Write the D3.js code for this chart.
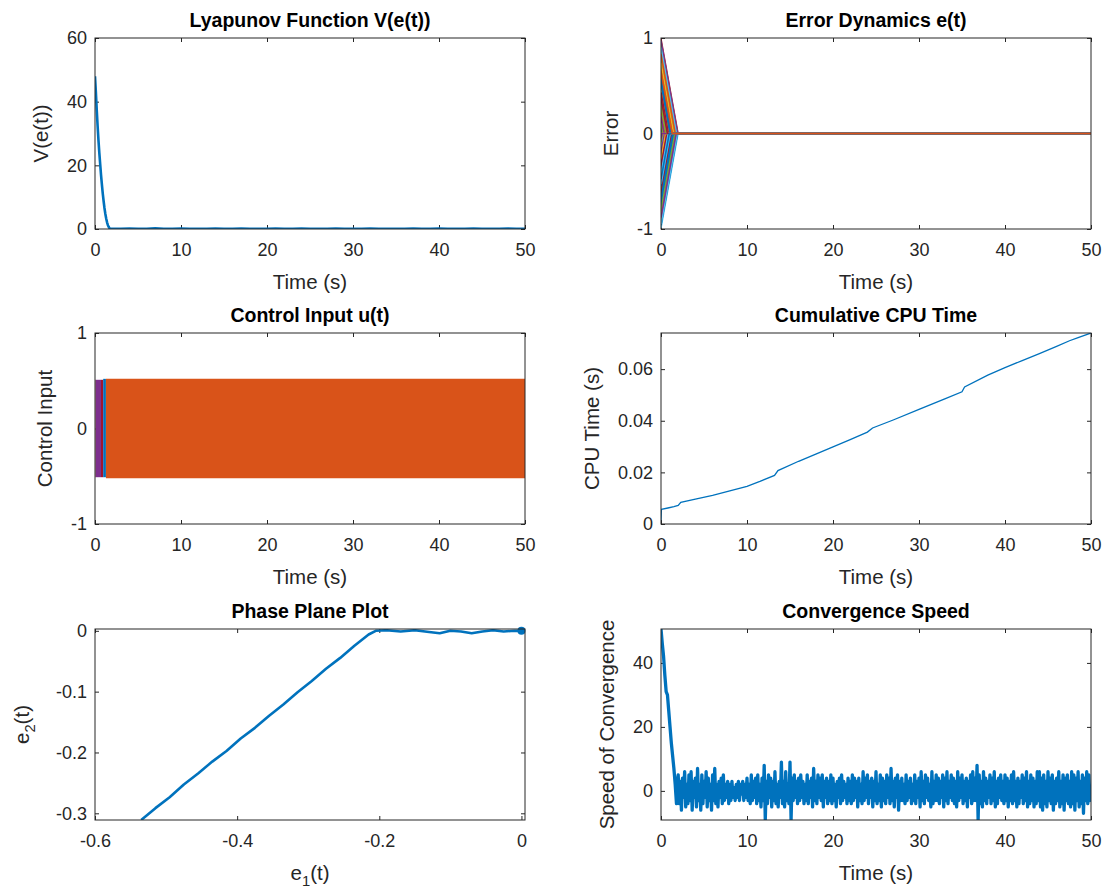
<!DOCTYPE html>
<html>
<head>
<meta charset="utf-8">
<script src="https://cdn.jsdelivr.net/npm/d3@7/dist/d3.min.js"></script>
<style>
  body { margin: 0; background: #fff; }
  svg { display: block; font-family: "Liberation Sans", Arial, Helvetica, sans-serif; }
</style>
</head>
<body>
<svg id="fig"></svg>
<script>
// MATLAB default line colour order
const colorOrder = ['#0072BD', '#D95319', '#EDB120', '#7E2F8E', '#77AC30', '#4DBEEE', '#A2142F']

// shared time ticks
const timeTicks = [0, 10, 20, 30, 40, 50]
const timeTickLabels = ['0', '10', '20', '30', '40', '50']

// Lyapunov function V(e(t))
const lyTime = [0, 0.1, 0.2, 0.3, 0.4, 0.5, 0.6, 0.7, 0.8, 0.9, 1.0, 1.1, 1.2, 1.3, 1.4, 1.5, 1.6, 1.7, 1.8]
const lyValue = [48, 43, 37.5, 32.5, 28, 24, 20.5, 17, 14, 11.2, 8.8, 6.6, 4.8, 3.3, 2.1, 1.2, 0.6, 0.2, 0.05]
const lyTailStart = 2
const lyTailStep = 1
const lyTail = [0.1, 0.05, 0.15, 0.05, 0.1, 0.2, 0.05, 0.1, 0.15, 0.05, 0.1, 0.05, 0.15, 0.1, 0.05, 0.15, 0.1, 0.05, 0.1, 0.15,
  0.05, 0.1, 0.15, 0.05, 0.1, 0.05, 0.15, 0.1, 0.05, 0.1, 0.15, 0.05, 0.1, 0.1, 0.05, 0.15, 0.05, 0.1, 0.15, 0.05,
  0.1, 0.05, 0.15, 0.1, 0.05, 0.1, 0.15, 0.05, 0.1]
const lyYTicks = [0, 20, 40, 60]

// Error dynamics e(t): initial error and settling time of each of the 100 states
const errInit = [0.62, -0.35, 0.81, 0.12, -0.74, -0.99, 0.45, -0.18, 0.93, -0.52,
  0.27, 0.71, -0.86, 0.99, -0.07, 0.38, -0.61, 0.55, -0.29, 0.84,
  -0.93, 0.16, -0.44, 0.68, 0.05, -0.77, 0.92, -0.13, 0.33, -0.58,
  0.76, -0.22, 0.49, -0.83, 0.09, -0.96, 0.60, -0.40, 0.87, -0.66,
  0.21, -0.04, 0.73, -0.89, 0.42, -0.31, 0.96, -0.50, 0.14, -0.79,
  0.58, -0.11, 0.35, -0.70, 0.88, -0.25, 0.02, -0.91, 0.47, -0.37,
  0.79, -0.16, 0.64, -0.55, 0.24, -0.84, 0.97, -0.09, 0.31, -0.63,
  0.52, -0.46, 0.85, -0.20, 0.11, -0.95, 0.39, -0.72, 0.67, -0.27,
  0.18, -0.81, 0.90, -0.34, 0.57, -0.06, 0.74, -0.88, 0.29, -0.53,
  0.43, -0.68, 0.83, 0.01, -0.05, 0.36, -0.42, 0.37, -0.48, 0.65]
const errSettle = [1.24, 0.70, 1.62, 0.24, 1.48, 1.98, 0.90, 0.36, 1.86, 1.04,
  0.54, 1.42, 1.72, 1.98, 0.14, 0.76, 1.22, 1.10, 0.58, 1.68,
  1.86, 0.32, 0.88, 1.36, 0.10, 1.54, 1.84, 0.26, 0.66, 1.16,
  1.52, 0.44, 0.98, 1.66, 0.18, 1.92, 1.20, 0.80, 1.74, 1.32,
  0.42, 0.08, 1.46, 1.78, 0.84, 0.62, 1.92, 1.00, 0.28, 1.58,
  1.16, 0.22, 0.70, 1.40, 1.76, 0.50, 0.04, 1.82, 0.94, 0.74,
  1.58, 0.32, 1.28, 1.10, 0.48, 1.68, 1.94, 0.18, 0.62, 1.26,
  1.04, 0.92, 1.70, 0.40, 0.22, 1.90, 0.78, 1.44, 1.34, 0.54,
  0.36, 1.62, 1.80, 0.68, 1.14, 0.12, 1.48, 1.76, 0.58, 1.06,
  0.86, 1.36, 1.66, 0.02, 0.10, 0.72, 0.84, 0.74, 0.96, 1.30]
const errYTicks = [-1, 0, 1]

// Control input u(t): chattering band of the states that end up on top
const uBandSeries = [94, 95, 98, 99, 100]
const uBandStart = [0, 0.05, 0.7, 0.95, 1.27]
const uBandEnd = [0.05, 0.7, 0.95, 1.27, 50]
const uBandHigh = [0.51, 0.51, 0.51, 0.52, 0.52]
const uBandLow = [-0.51, -0.51, -0.51, -0.51, -0.52]
const uYTicks = [-1, 0, 1]

// Cumulative CPU time
const cpuTime = [0, 0.05, 0.8, 1.5, 2.0, 2.3, 4, 6, 8, 10, 11.5, 13.2, 13.6, 16, 18, 20, 22, 24, 24.6, 27, 30,
  33, 35, 35.3, 38, 40, 42, 44, 46, 47.5, 48.5, 50]
const cpuValue = [0.0015, 0.0057, 0.0062, 0.0067, 0.0072, 0.0084, 0.0096, 0.0111, 0.0128, 0.0146, 0.0165, 0.0188,
  0.0207, 0.0243, 0.0271, 0.0299, 0.0327, 0.0356, 0.0372, 0.0403, 0.0444, 0.0485, 0.0512, 0.0531, 0.0577,
  0.0606, 0.0633, 0.0660, 0.0688, 0.0710, 0.0722, 0.0740]
const cpuYTicks = [0, 0.02, 0.04, 0.06]
const cpuYTickLabels = ['0', '0.02', '0.04', '0.06']

// Phase plane e1 vs e2
const phE1 = [-0.535, -0.515, -0.495, -0.475, -0.455, -0.435, -0.415, -0.395, -0.375, -0.355, -0.335, -0.315,
  -0.295, -0.275, -0.255, -0.235, -0.215, -0.205, -0.19, -0.17, -0.15, -0.13, -0.115, -0.1, -0.085, -0.07,
  -0.055, -0.04, -0.025, -0.01, 0]
const phE2 = [-0.311, -0.2915, -0.2735, -0.2525, -0.2345, -0.2150, -0.1975, -0.1770, -0.1595, -0.1395, -0.1210, -0.1010,
  -0.0825, -0.0625, -0.0445, -0.0245, -0.0060, 0.0, 0.001, -0.001, 0.001, -0.002, -0.004, 0.0, -0.001, -0.004,
  -0.001, 0.001, -0.001, 0.0, 0.0]
const phXTicks = [-0.6, -0.4, -0.2, 0]
const phXTickLabels = ['-0.6', '-0.4', '-0.2', '0']
const phYTicks = [-0.3, -0.2, -0.1, 0]
const phYTickLabels = ['-0.3', '-0.2', '-0.1', '0']

// Convergence speed
const convHeadTime = [0, 0.15, 0.3, 0.45, 0.6, 0.75, 0.9, 1.05, 1.2, 1.35, 1.5, 1.65, 1.8, 1.9]
const convHeadValue = [50.6, 46, 42, 36, 31, 30, 25, 20, 15, 11, 7, 2, -4, 3]
const convTailStart = 2
const convTailStep = 0.125
const convTail = [
  5, -4, 3, -6, 4, -2, 6, -5, 2, -4, 5, -3, 6, -6, 3, -2,
  4, -5, 7, -3, 2, -6, 5, -4, 3, -2, 6, -5, 4, -3, 2, -6,
  5, -3, 7, -4, 2, -5, 3, -2, 4, -4, 5, -3, 2, -2, 3, -4,
  2, -3, 3, -2, 1, -3, 2, -2, 3, -3, 2, -1, 3, -3, 2, -2,
  4, -3, 2, -4, 5, -3, 3, -2, 4, -4, 5, -3, 2, -5, 4, -3,
  8, -9, 3, -4, 5, -2, 4, -5, 3, -3, 6, -4, 2, -5, 3, -2,
  9, -4, 3, -5, 6, -3, 2, -4, 9, -9, 4, -3, 5, -2, 3, -4,
  4, -3, 5, -2, 3, -4, 2, -3, 5, -4, 3, -2, 4, -5, 7, -3,
  3, -4, 5, -2, 4, -3, 5, -5, 3, -2, 4, -4, 3, -3, 5, -4,
  4, -3, 2, -5, 3, -2, 4, -4, 5, -3, 3, -2, 2, -4, 4, -3,
  3, -4, 5, -3, 4, -2, 3, -5, 4, -3, 2, -4, 6, -3, 4, -2,
  5, -4, 3, -2, 4, -5, 3, -3, 6, -4, 2, -3, 5, -5, 4, -3,
  3, -4, 5, -2, 4, -4, 7, -3, 3, -5, 4, -2, 5, -6, 3, -3,
  4, -3, 2, -4, 5, -3, 3, -2, 4, -4, 2, -3, 5, -4, 3, -2,
  4, -5, 6, -3, 3, -4, 5, -2, 4, -3, 2, -5, 6, -4, 3, -3,
  5, -3, 4, -4, 3, -2, 5, -5, 4, -3, 6, -4, 3, -2, 5, -3,
  4, -4, 3, -5, 6, -3, 4, -2, 5, -4, 3, -3, 4, -5, 3, -2,
  5, -4, 6, -3, 4, -3, 8, -9, 5, -4, 3, -5, 6, -3, 4, -4,
  3, -2, 5, -4, 4, -3, 6, -5, 3, -4, 4, -2, 5, -3, 3, -4,
  5, -3, 4, -5, 3, -3, 5, -4, 6, -3, 3, -5, 4, -4, 3, -2,
  5, -4, 4, -3, 6, -5, 3, -4, 5, -3, 4, -5, 3, -4, 6, -3,
  6, -5, 4, -6, 5, -4, 3, -5, 6, -3, 4, -4, 5, -6, 3, -4,
  4, -3, 6, -5, 3, -4, 5, -6, 4, -3, 5, -4, 3, -5, 6, -4,
  5, -6, 4, -3, 6, -5, 3, -4, 5, -7, 4, -3, 6, -4, 5, -3, 2]
const convYTicks = [0, 20, 40]

let width = 1107
let height = 894
let pw = 430
let ph = 191
let colX = [95, 661]
let rowY = [38, 333, 629]
let tickColor = '#262626'
let tickFont = 18
let labelFont = 20.5
let titleFont = 19.5

let svg = d3.select('#fig').attr('width', width).attr('height', height)

const writeLabel = (sel, main, sub, tail) => {
  if (sub) {
    sel.append('tspan').text(main)
    sel.append('tspan').attr('font-size', labelFont * 0.72).attr('dy', 6).text(sub)
    sel.append('tspan').attr('dy', -6).text(tail)
  } else {
    sel.text(main)
  }
}

const makePanel = (opt) => {
  let g = svg.append('g').attr('transform', `translate(${opt.left},${opt.top})`)
  let xs = d3.scaleLinear().domain(opt.xDomain).range([0, pw])
  let ys = d3.scaleLinear().domain(opt.yDomain).range([ph, 0])

  let xLab = opt.xTickLabels || opt.xTicks.map(String)
  let yLab = opt.yTickLabels || opt.yTicks.map(String)

  // ticks point inward on all four sides, like MATLAB's box on
  let bottom = g.append('g').attr('transform', `translate(0,${ph})`)
    .call(d3.axisBottom(xs).tickValues(opt.xTicks).tickFormat((d, i) => xLab[i]).tickSizeInner(-4).tickSizeOuter(0).tickPadding(14))
  let top = g.append('g')
    .call(d3.axisTop(xs).tickValues(opt.xTicks).tickFormat('').tickSizeInner(-4).tickSizeOuter(0))
  let left = g.append('g')
    .call(d3.axisLeft(ys).tickValues(opt.yTicks).tickFormat((d, i) => yLab[i]).tickSizeInner(-4).tickSizeOuter(0).tickPadding(8))
  let right = g.append('g').attr('transform', `translate(${pw},0)`)
    .call(d3.axisRight(ys).tickValues(opt.yTicks).tickFormat('').tickSizeInner(-4).tickSizeOuter(0))

  ;[bottom, top, left, right].forEach(a => {
    a.attr('font-family', null).attr('font-size', tickFont)
    a.select('.domain').remove()
    a.selectAll('line').attr('stroke', tickColor)
    a.selectAll('text').attr('fill', tickColor)
  })

  let clipId = 'clip-' + opt.id
  g.append('clipPath').attr('id', clipId)
    .append('rect').attr('width', pw).attr('height', ph)
  let plot = g.append('g').attr('clip-path', `url(#${clipId})`)

  // title
  g.append('text')
    .attr('x', pw / 2).attr('y', -11)
    .attr('text-anchor', 'middle')
    .attr('font-size', titleFont).attr('font-weight', 'bold').attr('fill', '#000')
    .text(opt.title)

  // x label
  let xl = g.append('text')
    .attr('x', pw / 2).attr('y', ph + 60)
    .attr('text-anchor', 'middle')
    .attr('font-size', labelFont).attr('fill', tickColor)
  writeLabel(xl, opt.xLabel, opt.xSub, opt.xTail)

  // y label, placed left of the widest tick label
  let minX = d3.min(left.selectAll('text').nodes(), n => n.getBBox().x)
  let yl = g.append('text')
    .attr('transform', `translate(${minX - 19 - (opt.yGap || 0)},${ph / 2}) rotate(-90)`)
    .attr('text-anchor', 'middle')
    .attr('font-size', labelFont).attr('fill', tickColor)
  writeLabel(yl, opt.yLabel, opt.ySub, opt.yTail)

  return { g, plot, xs, ys }
}

const drawBox = (p) => {
  p.g.append('rect')
    .attr('width', pw).attr('height', ph)
    .attr('fill', 'none').attr('stroke', tickColor).attr('stroke-width', 1)
}

// ---- Lyapunov function ----
const drawLyapunov = () => {
  let p = makePanel({
    id: 'ly', left: colX[0], top: rowY[0], xDomain: [0, 50], yDomain: [0, 60],
    xTicks: timeTicks, xTickLabels: timeTickLabels, yTicks: lyYTicks,
    title: 'Lyapunov Function V(e(t))', xLabel: 'Time (s)', yLabel: 'V(e(t))'
  })
  let pts = lyTime.map((t, i) => [t, lyValue[i]])
  lyTail.forEach((v, i) => pts.push([lyTailStart + i * lyTailStep, v]))
  p.plot.append('path')
    .datum(pts)
    .attr('fill', 'none').attr('stroke', colorOrder[0]).attr('stroke-width', 2.6)
    .attr('stroke-linejoin', 'round')
    .attr('d', d3.line().x(d => p.xs(d[0])).y(d => p.ys(d[1])))
  drawBox(p)
}

// ---- Error dynamics ----
const drawErrors = () => {
  let p = makePanel({
    id: 'err', left: colX[1], top: rowY[0], xDomain: [0, 50], yDomain: [-1, 1],
    xTicks: timeTicks, xTickLabels: timeTickLabels, yTicks: errYTicks,
    title: 'Error Dynamics e(t)', xLabel: 'Time (s)', yLabel: 'Error'
  })
  let series = errInit.map((e0, i) => [[0, e0], [errSettle[i], 0], [50, 0]])
  p.plot.selectAll('path.err')
    .data(series)
    .enter()
    .append('path')
    .attr('class', 'err')
    .attr('fill', 'none')
    .attr('stroke', (d, i) => colorOrder[i % 7])
    .attr('stroke-width', 1.5)
    .attr('d', d3.line().x(d => p.xs(d[0])).y(d => p.ys(d[1])))
  drawBox(p)
}

// ---- Control input ----
const drawControl = () => {
  let p = makePanel({
    id: 'u', left: colX[0], top: rowY[1], xDomain: [0, 50], yDomain: [-1, 1],
    xTicks: timeTicks, xTickLabels: timeTickLabels, yTicks: uYTicks,
    title: 'Control Input u(t)', xLabel: 'Time (s)', yLabel: 'Control Input'
  })
  let bands = uBandSeries.map((s, i) => ({
    s: s,
    pts: [[uBandStart[i], uBandLow[i], uBandHigh[i]], [uBandEnd[i], uBandLow[i], uBandHigh[i]]]
  }))
  p.plot.selectAll('path.band')
    .data(bands)
    .enter()
    .append('path')
    .attr('class', 'band')
    .attr('fill', d => colorOrder[(d.s - 1) % 7])
    .attr('d', d => d3.area().x(v => p.xs(v[0])).y0(v => p.ys(v[1])).y1(v => p.ys(v[2]))(d.pts))
  drawBox(p)
}

// ---- CPU time ----
const drawCpu = () => {
  let p = makePanel({
    id: 'cpu', left: colX[1], top: rowY[1], xDomain: [0, 50], yDomain: [0, 0.074],
    xTicks: timeTicks, xTickLabels: timeTickLabels, yTicks: cpuYTicks, yTickLabels: cpuYTickLabels,
    title: 'Cumulative CPU Time', xLabel: 'Time (s)', yLabel: 'CPU Time (s)'
  })
  p.plot.append('path')
    .datum(cpuTime.map((t, i) => [t, cpuValue[i]]))
    .attr('fill', 'none').attr('stroke', colorOrder[0]).attr('stroke-width', 1.3)
    .attr('d', d3.line().x(d => p.xs(d[0])).y(d => p.ys(d[1])))
  drawBox(p)
}

// ---- Phase plane ----
const drawPhase = () => {
  let p = makePanel({
    id: 'ph', left: colX[0], top: rowY[2], xDomain: [-0.6, 0.005], yDomain: [-0.311, 0.003],
    xTicks: phXTicks, xTickLabels: phXTickLabels, yTicks: phYTicks, yTickLabels: phYTickLabels,
    title: 'Phase Plane Plot', xLabel: 'e', xSub: '1', xTail: '(t)', yLabel: 'e', ySub: '2', yTail: '(t)',
    yGap: 8
  })
  let pts = phE1.map((e, i) => [e, phE2[i]])
  p.plot.append('path')
    .datum(pts)
    .attr('fill', 'none').attr('stroke', colorOrder[0]).attr('stroke-width', 2.6)
    .attr('stroke-linejoin', 'round')
    .attr('d', d3.line().x(d => p.xs(d[0])).y(d => p.ys(d[1])))
  let last = pts[pts.length - 1]
  p.g.append('circle')
    .attr('cx', p.xs(last[0])).attr('cy', p.ys(last[1])).attr('r', 4)
    .attr('fill', colorOrder[0])
  drawBox(p)
}

// ---- Convergence speed ----
const drawConvergence = () => {
  let p = makePanel({
    id: 'cv', left: colX[1], top: rowY[2], xDomain: [0, 50], yDomain: [-9.1, 50.6],
    xTicks: timeTicks, xTickLabels: timeTickLabels, yTicks: convYTicks,
    title: 'Convergence Speed', xLabel: 'Time (s)', yLabel: 'Speed of Convergence'
  })
  let pts = convHeadTime.map((t, i) => [t, convHeadValue[i]])
  convTail.forEach((v, i) => pts.push([convTailStart + i * convTailStep, v]))
  p.plot.append('path')
    .datum(pts)
    .attr('fill', 'none').attr('stroke', colorOrder[0]).attr('stroke-width', 3.3)
    .attr('stroke-linejoin', 'round')
    .attr('d', d3.line().x(d => p.xs(d[0])).y(d => p.ys(d[1])))
  drawBox(p)
}

drawLyapunov()
drawErrors()
drawControl()
drawCpu()
drawPhase()
drawConvergence()
</script>
</body>
</html>
